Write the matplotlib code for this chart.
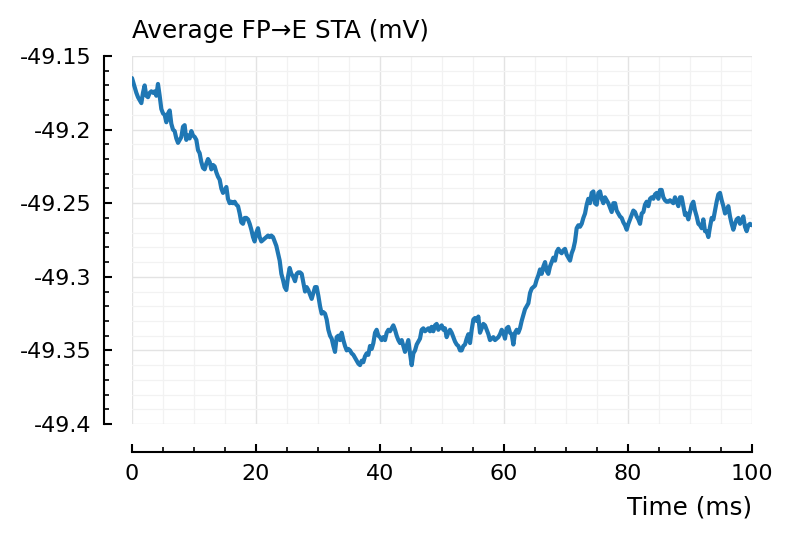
import numpy as np
import matplotlib.pyplot as plt
from matplotlib.ticker import MultipleLocator

plt.rcParams['font.family'] = ['DejaVu Sans']
plt.rcParams['axes.unicode_minus'] = False

# ---------------------------------------------------------------
# data
# ---------------------------------------------------------------
t_ms = [
    0.00, 0.43, 0.70, 0.97, 1.24, 1.51, 1.77, 2.04, 2.31, 2.58, 2.85, 3.12, 3.39, 3.66, 3.92,
    4.19, 4.46, 4.73, 5.00, 5.27, 5.54, 5.81, 6.08, 6.34, 6.61, 6.88, 7.15, 7.42, 7.69, 7.96,
    8.23, 8.49, 8.76, 9.03, 9.30, 9.57, 9.84, 10.11, 10.38, 10.65, 10.91, 11.18, 11.45, 11.72,
    11.99, 12.26, 12.53, 12.80, 13.06, 13.33, 13.60, 13.87, 14.14, 14.41, 14.68, 14.95, 15.22,
    15.48, 15.75, 16.02, 16.29, 16.56, 16.83, 17.10, 17.37, 17.63, 17.90, 18.17, 18.44, 18.71,
    18.98, 19.25, 19.52, 19.78, 20.05, 20.32, 20.59, 20.86, 21.13, 21.40, 21.67, 21.94, 22.20,
    22.47, 22.74, 23.01, 23.28, 23.55, 23.82, 24.09, 24.35, 24.62, 24.89, 25.16, 25.43, 25.70,
    26.02, 26.29, 26.56, 26.83, 27.10, 27.37, 27.64, 27.91, 28.17, 28.44, 28.71, 28.98, 29.25,
    29.52, 29.79, 30.06, 30.33, 30.59, 30.86, 31.13, 31.40, 31.67, 31.94, 32.21, 32.48, 32.74,
    33.01, 33.28, 33.55, 33.82, 34.09, 34.36, 34.63, 34.89, 35.16, 35.43, 35.70, 35.97, 36.24,
    36.51, 36.78, 37.05, 37.31, 37.58, 37.85, 38.12, 38.39, 38.66, 38.93, 39.20, 39.46, 39.73,
    40.00, 40.27, 40.54, 40.81, 41.08, 41.35, 41.61, 41.88, 42.15, 42.42, 42.69, 42.96, 43.23,
    43.50, 43.77, 44.03, 44.30, 44.57, 44.84, 45.11, 45.38, 45.65, 45.92, 46.18, 46.45, 46.72,
    46.99, 47.26, 47.53, 47.80, 48.07, 48.33, 48.60, 48.87, 49.14, 49.41, 49.68, 49.95, 50.22,
    50.48, 50.75, 51.02, 51.29, 51.56, 51.83, 52.10, 52.37, 52.64, 52.91, 53.17, 53.44, 53.71,
    53.98, 54.25, 54.52, 54.79, 55.06, 55.32, 55.59, 55.86, 56.13, 56.40, 56.67, 56.94, 57.21,
    57.48, 57.74, 58.01, 58.28, 58.55, 58.82, 59.09, 59.36, 59.63, 59.90, 60.16, 60.43, 60.70,
    60.97, 61.24, 61.51, 61.78, 62.05, 62.31, 62.58, 62.85, 63.12, 63.39, 63.66, 63.93, 64.20,
    64.47, 64.73, 65.00, 65.27, 65.54, 65.81, 66.08, 66.35, 66.62, 66.88, 67.15, 67.42, 67.69,
    67.96, 68.23, 68.50, 68.77, 69.04, 69.30, 69.57, 69.84, 70.11, 70.38, 70.65, 70.92, 71.19,
    71.45, 71.72, 71.99, 72.26, 72.53, 72.80, 73.07, 73.34, 73.60, 73.87, 74.14, 74.41, 74.68,
    74.95, 75.22, 75.49, 75.75, 76.02, 76.29, 76.56, 76.83, 77.10, 77.37, 77.64, 77.91, 78.17,
    78.44, 78.71, 78.98, 79.25, 79.52, 79.79, 80.06, 80.33, 80.59, 80.86, 81.13, 81.40, 81.67,
    81.94, 82.21, 82.48, 82.74, 83.01, 83.28, 83.55, 83.82, 84.09, 84.36, 84.63, 84.89, 85.16,
    85.43, 85.70, 85.97, 86.24, 86.51, 86.78, 87.05, 87.31, 87.58, 87.85, 88.12, 88.39, 88.66,
    88.93, 89.20, 89.46, 89.73, 90.00, 90.27, 90.54, 90.81, 91.08, 91.35, 91.61, 91.88, 92.15,
    92.42, 92.69, 92.96, 93.23, 93.50, 93.77, 94.03, 94.30, 94.57, 94.84, 95.11, 95.38, 95.65,
    95.91, 96.18, 96.45, 96.72, 96.99, 97.26, 97.53, 97.80, 98.07, 98.33, 98.60, 98.87, 99.14,
    99.41, 99.68, 100.00,
]

sta_mv = [
    -49.165, -49.171, -49.175, -49.178, -49.180, -49.182, -49.175, -49.170, -49.177, -49.178,
    -49.175, -49.174, -49.175, -49.174, -49.177, -49.169, -49.177, -49.186, -49.189, -49.190,
    -49.195, -49.189, -49.187, -49.196, -49.200, -49.201, -49.206, -49.209, -49.207, -49.205,
    -49.198, -49.197, -49.207, -49.204, -49.206, -49.201, -49.204, -49.205, -49.207, -49.214,
    -49.216, -49.222, -49.226, -49.227, -49.223, -49.220, -49.222, -49.227, -49.224, -49.225,
    -49.229, -49.232, -49.234, -49.240, -49.243, -49.241, -49.239, -49.247, -49.250, -49.249,
    -49.250, -49.249, -49.251, -49.252, -49.257, -49.263, -49.264, -49.260, -49.260, -49.261,
    -49.264, -49.268, -49.273, -49.276, -49.270, -49.267, -49.273, -49.276, -49.275, -49.274,
    -49.273, -49.272, -49.273, -49.272, -49.273, -49.276, -49.279, -49.284, -49.289, -49.298,
    -49.302, -49.307, -49.309, -49.300, -49.294, -49.298,
    -49.300, -49.303, -49.298, -49.297, -49.297, -49.298, -49.304, -49.310, -49.307, -49.309,
    -49.312, -49.315, -49.311, -49.307, -49.307, -49.313, -49.320, -49.325, -49.324, -49.325,
    -49.329, -49.336, -49.340, -49.342, -49.347, -49.351, -49.341, -49.340, -49.343, -49.338,
    -49.343, -49.347, -49.350, -49.349, -49.350, -49.352, -49.353, -49.355, -49.357, -49.359,
    -49.360, -49.357, -49.358, -49.354, -49.352, -49.353, -49.347, -49.349, -49.345, -49.338,
    -49.336, -49.340, -49.341, -49.343, -49.341, -49.343, -49.338, -49.336, -49.337, -49.335,
    -49.333, -49.336, -49.340, -49.343, -49.345, -49.343, -49.347, -49.351, -49.347, -49.343,
    -49.352, -49.360, -49.352, -49.350, -49.346, -49.344, -49.342, -49.336, -49.335, -49.337,
    -49.336, -49.335, -49.337, -49.334, -49.337, -49.333, -49.332, -49.336, -49.334, -49.333,
    -49.336, -49.335,
    -49.341, -49.338, -49.336, -49.338, -49.341, -49.344, -49.346, -49.347, -49.350, -49.350,
    -49.347, -49.346, -49.342, -49.339, -49.345, -49.336, -49.329, -49.328, -49.330, -49.327,
    -49.338, -49.335, -49.332, -49.333, -49.336, -49.339, -49.343, -49.342, -49.341, -49.343,
    -49.342, -49.341, -49.339, -49.336, -49.338, -49.342, -49.335, -49.334, -49.338, -49.339,
    -49.346, -49.338, -49.336, -49.338, -49.335, -49.330, -49.326, -49.322, -49.320, -49.318,
    -49.311, -49.308, -49.307, -49.306, -49.302, -49.299, -49.295, -49.298, -49.293, -49.290,
    -49.296, -49.298, -49.293, -49.290, -49.287, -49.289, -49.283, -49.281, -49.283, -49.284,
    -49.282, -49.281, -49.285, -49.287, -49.289, -49.284, -49.281, -49.276, -49.267, -49.265,
    -49.266, -49.264, -49.260, -49.257, -49.251, -49.247, -49.250, -49.243, -49.242,
    -49.250, -49.251, -49.243, -49.242, -49.247, -49.250, -49.246, -49.248, -49.250, -49.253,
    -49.256, -49.250, -49.250, -49.255, -49.257, -49.259, -49.260, -49.263, -49.265, -49.268,
    -49.264, -49.261, -49.258, -49.255, -49.256, -49.259, -49.261, -49.264, -49.257, -49.256,
    -49.251, -49.249, -49.252, -49.247, -49.246, -49.247, -49.244, -49.243, -49.247, -49.241,
    -49.241, -49.246, -49.248, -49.249, -49.249, -49.248, -49.249, -49.250, -49.246, -49.249,
    -49.252, -49.246, -49.246, -49.252, -49.258, -49.257, -49.261, -49.256, -49.251, -49.249,
    -49.255, -49.259, -49.264, -49.265, -49.267, -49.261, -49.269, -49.269, -49.273, -49.266,
    -49.260, -49.261, -49.255, -49.249, -49.244, -49.243, -49.248, -49.252, -49.257, -49.255,
    -49.252, -49.259, -49.264, -49.268, -49.264, -49.261, -49.260, -49.264, -49.262, -49.259,
    -49.266, -49.269, -49.265, -49.264, -49.265,
]

x_ticks = [0, 20, 40, 60, 80, 100]
y_ticks = [-49.4, -49.35, -49.3, -49.25, -49.2, -49.15]
y_tick_labels = ['-49.4', '-49.35', '-49.3', '-49.25', '-49.2', '-49.15']

TITLE = 'Average FP\u2192E STA (mV)'
XLABEL = 'Time (ms)'

# ---------------------------------------------------------------
# figure
# ---------------------------------------------------------------
W, H = 794, 540
fig = plt.figure(figsize=(W / 100, H / 100), dpi=100)
ax = fig.add_axes([132 / W, 1 - 424 / H, 620 / W, 368 / H])

ax.plot(t_ms, sta_mv, color='#1f77b4', lw=3.0,
        solid_joinstyle='round', solid_capstyle='round', zorder=3)

ax.set_xlim(0, 100)
ax.set_ylim(-49.4, -49.15)
ax.set_xticks(x_ticks)
ax.set_xticklabels([str(v) for v in x_ticks])
ax.set_yticks(y_ticks)
ax.set_yticklabels(y_tick_labels)
ax.xaxis.set_minor_locator(MultipleLocator(5))
ax.yaxis.set_minor_locator(MultipleLocator(0.01))

# grid
ax.set_axisbelow(True)
ax.grid(which='major', color='#e3e3e3', lw=1.0)
ax.grid(which='minor', color='#f2f2f2', lw=0.9)

# spines: only left/bottom, pushed outwards
for s in ['top', 'right']:
    ax.spines[s].set_visible(False)
ax.spines['left'].set_position(('outward', 20))
ax.spines['bottom'].set_position(('outward', 20))
ax.spines['left'].set_bounds(-49.4, -49.15)
ax.spines['bottom'].set_bounds(0, 100)
for s in ['left', 'bottom']:
    ax.spines[s].set_linewidth(1.5)

ax.tick_params(which='major', direction='in', length=6, width=1.5,
               labelsize=16, pad=9)
ax.tick_params(which='minor', direction='in', length=3.8, width=1.2)

fig.text(132 / W, 1 - 38 / H, TITLE, fontsize=17.8, ha='left', va='baseline')
fig.text(752 / W, 1 - 515 / H, XLABEL, fontsize=17.8, ha='right', va='baseline')

fig.savefig('out.png', dpi=100)
